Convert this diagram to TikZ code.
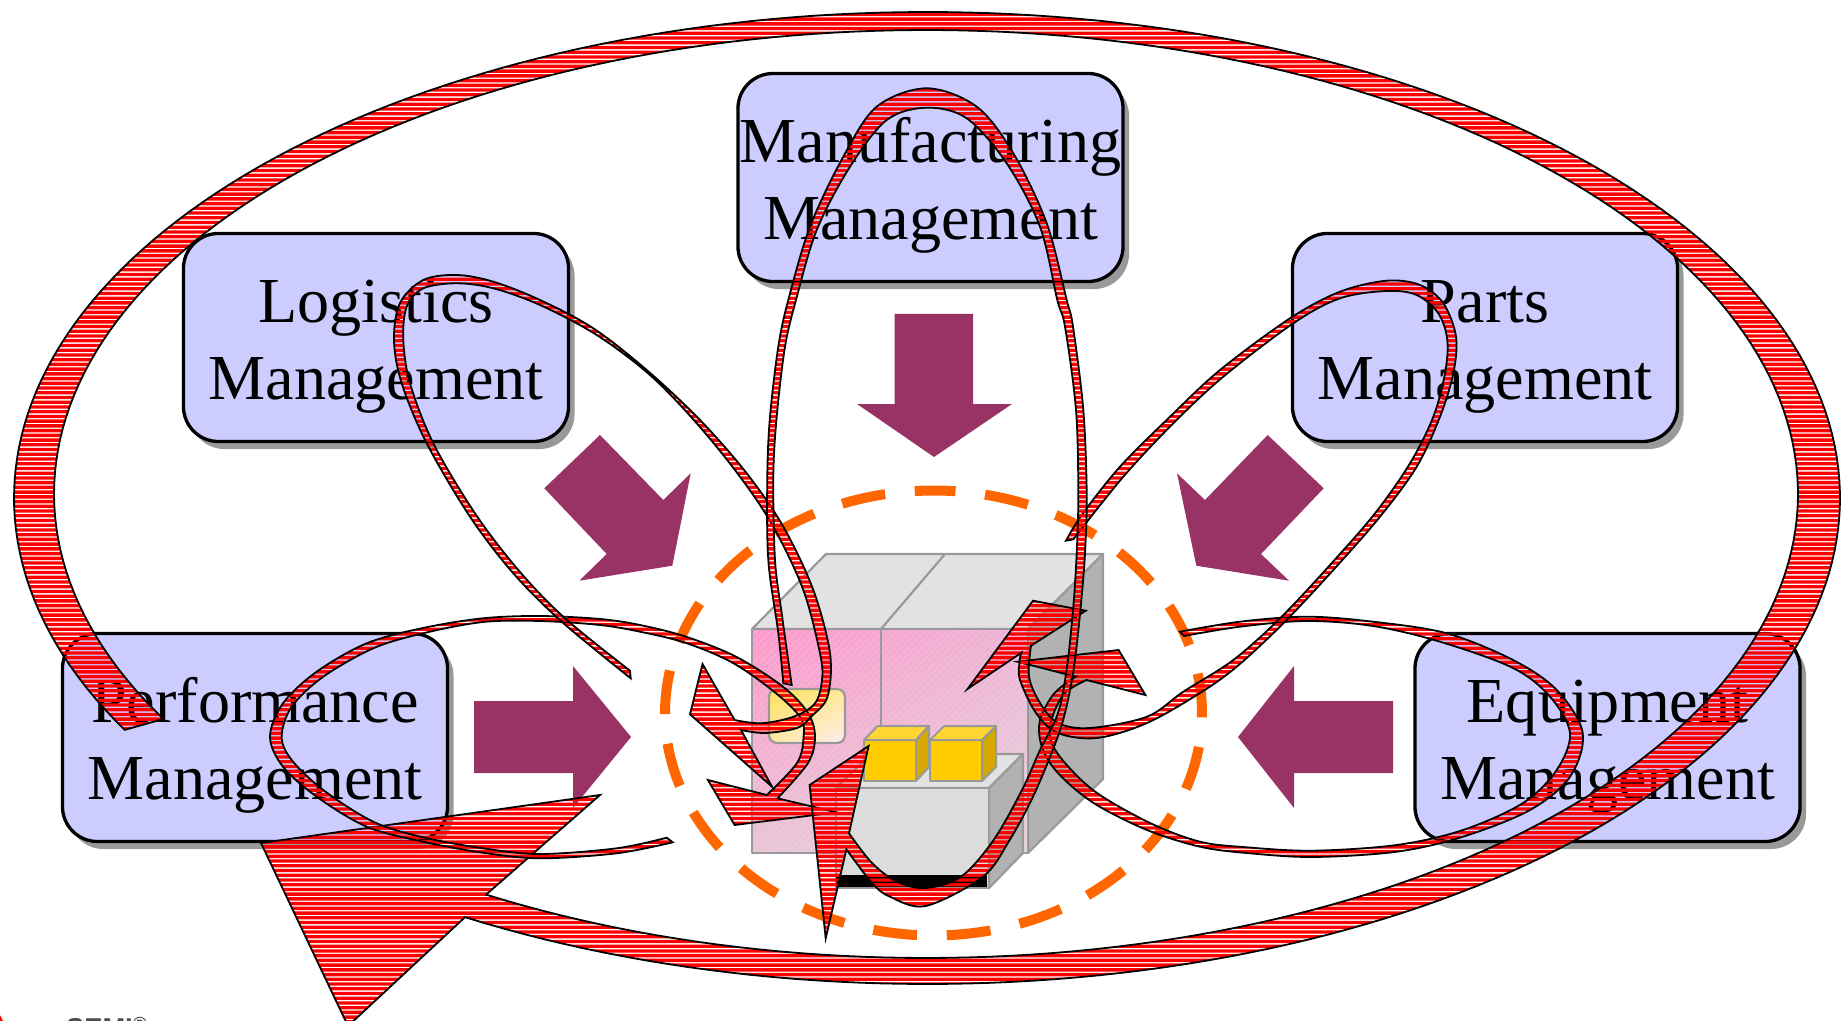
\documentclass[tikz,border=0pt]{standalone}
\usepackage{fontspec}
\setmainfont{Liberation Serif}
\newfontfamily\logofont{Liberation Sans}
\usetikzlibrary{shadows,shadings}
\definecolor{boxfill}{HTML}{CCCCFF}
\definecolor{purpleblock}{HTML}{993366}
\definecolor{dashorange}{HTML}{FF6600}
\definecolor{shadowgray}{HTML}{999999}
\definecolor{edgegray}{HTML}{999999}
\definecolor{cabtop}{HTML}{E2E2E2}
\definecolor{cabside}{HTML}{B2B2B2}
\definecolor{shelffront}{HTML}{DCDCDC}
\definecolor{cubefront}{HTML}{FFCC00}
\definecolor{cubetop}{HTML}{FFD633}
\definecolor{cubeside}{HTML}{D4A800}
\definecolor{panelUL}{HTML}{FF99CC}
\definecolor{panelUR}{HTML}{ECB4D4}
\definecolor{panelLL}{HTML}{E9C4D6}
\definecolor{panelLR}{HTML}{E8D6E0}
\definecolor{winUL}{HTML}{FFE25A}
\definecolor{winUR}{HTML}{FFE896}
\definecolor{winLL}{HTML}{FFE8AA}
\definecolor{winLR}{HTML}{FCEEF0}
\tikzset{
  mgmtbox/.style={draw=black,line width=3.3*0.04cm,fill=boxfill,rounded corners=1.4cm,
    minimum width=15.4cm,minimum height=8.32cm,inner sep=0pt,align=center,
    font=\fontsize{73}{88}\selectfont,text height=152pt,text depth=10pt,
    general shadow={fill=shadowgray,shadow xshift=0.24cm,shadow yshift=-0.3cm}},
  purplearrow/.style={fill=purpleblock,draw=none},
  cabedge/.style={draw=edgegray,line width=2.2*0.04cm,line join=round},
  cubeedge/.style={draw=edgegray,line width=2*0.04cm,line join=round},
  arrowline/.style={draw=black,line width=1.8*0.04cm,line join=miter},
  orangering/.style={draw=dashorange,line width=10*0.04cm,dash pattern=on 1.76cm off 1.19cm,dash phase=0.88cm}
}
\newcommand\hatched[1]{%
  \begin{scope}
    \clip #1;
    \fill[red]\foreach \k in {0,...,216}{(-5,{3.25+\k*4.73}) rectangle (1850,{6.6+\k*4.73})};
  \end{scope}
  \draw[arrowline] #1;}
\begin{document}
\begin{tikzpicture}[x=0.04cm,y=-0.04cm]
\useasboundingbox (0,0) rectangle (1843,1021);
\fill[white] (0,0) rectangle (1843,1021);

% block arrows
\fill[purplearrow] (894.5,314) -- (973,314) -- (973,404) -- (1012,404) -- (934,457) -- (857,404) -- (894.5,404) -- cycle;
\fill[purplearrow] (474,701) -- (573,701) -- (573,666) -- (631,737) -- (573,808) -- (573,773) -- (474,773) -- cycle;
\fill[purplearrow] (1393,701) -- (1294,701) -- (1294,666) -- (1238,737) -- (1294,808) -- (1294,773) -- (1393,773) -- cycle;
\fill[purplearrow] (600,435) -- (544.3,488.3) -- (606.7,554) -- (579.3,580.7) -- (672.3,565.7) -- (690.7,473.3) -- (663.3,500) -- cycle;
\fill[purplearrow] (1267.7,435) -- (1323.7,488.3) -- (1261,554) -- (1289,580.7) -- (1196.3,565.7) -- (1177,473.3) -- (1205,500) -- cycle;

% cabinet
\fill[cabtop,cabedge] (752,629) -- (826,554) -- (1103,554) -- (1028,629) -- cycle;
\draw[cabedge] (945,554) -- (881,629);
\fill[cabside,cabedge] (1028,629) -- (1103,554) -- (1103,779) -- (1028,853) -- cycle;
\shade[shading=bilinear interpolation,upper left=panelUL,upper right=panelUR,lower left=panelLL,lower right=panelLR] (752,629) rectangle (1028,853);
\begin{scope}
  \clip (752,629) rectangle (1028,853);
  \foreach \k in {0,...,70}{\draw[white,opacity=0.18,line width=0.04cm] ({752+\k*7},853) -- ({752+\k*7+224},629);}
  \foreach \k in {1,...,32}{\draw[white,opacity=0.18,line width=0.04cm] ({752-\k*7},853) -- ({752-\k*7+224},629);}
\end{scope}
\draw[cabedge] (752,629) rectangle (1028,853);
\draw[cabedge] (881,629) -- (881,726);

% small window
\begin{scope}
  \clip[rounded corners=0.32cm] (769,689) rectangle (845,743);
  \shade[shading=bilinear interpolation,upper left=winUL,upper right=winUR,lower left=winLL,lower right=winLR] (769,689) rectangle (845,743);
\end{scope}
\draw[cabedge,rounded corners=0.32cm] (769,689) rectangle (845,743);

% shelf unit
\fill[cabtop,cabedge] (836,788) -- (871,754) -- (1023,754) -- (989,788) -- cycle;
\fill[cabside,cabedge] (989,788) -- (1023,754) -- (1023,853) -- (989,888) -- cycle;
\fill[shelffront,cabedge] (836,788) rectangle (989,888);
\fill[black] (836,875) rectangle (987,887);

% yellow cubes
\fill[cubefront,cubeedge] (864,740) rectangle (916,781);
\fill[cubetop,cubeedge] (864,740) -- (877.5,726) -- (929,726) -- (916,740) -- cycle;
\fill[cubeside,cubeedge] (916,740) -- (929,726) -- (929,767) -- (916,781) -- cycle;
\fill[cubefront,cubeedge] (930,740) rectangle (982,781);
\fill[cubetop,cubeedge] (930,740) -- (944,726) -- (996,726) -- (982,740) -- cycle;
\fill[cubeside,cubeedge] (982,740) -- (996,726) -- (996,767) -- (982,781) -- cycle;

% management boxes
\node[mgmtbox] (mfg) at (930.5,177.5) {Manufacturing\\Management};
\node[mgmtbox] (log) at (376,337.5) {Logistics\\Management};
\node[mgmtbox] (par) at (1485,337.5) {Parts\\Management};
\node[mgmtbox] (perf) at (255,737.5) {Performance\\Management};
\node[mgmtbox] (equ) at (1607.5,737.5) {Equipment\\Management};

% dashed ring
\draw[orangering] plot[domain=270:630,samples=240] ({933.5+268.5*cos(\x)},{713+222.5*sin(\x)});

% logo remnant
\node[anchor=north west,inner sep=0pt,text=black!70,font=\logofont\bfseries\fontsize{31}{31}\selectfont] (semi) at (66,1016.5) {SEMI\textsuperscript{®}};
\fill[red] (0,1015) -- (3,1021) -- (0,1021) -- cycle;

% big ring arrow
\hatched{plot[domain=151.5:480.4,samples=240] ({927+913*cos(\x)},{498+486*sin(\x)}) -- (348,1026) -- (261,843) -- (600,795) -- plot[domain=480.3:151,samples=240] ({926+872*cos(\x)},{494+464*sin(\x)}) -- cycle}

% performance arrow
\hatched{plot[smooth,tension=0.55] coordinates {(672.7,842.3) (616.7,853.3) (540,858.3) (483,852.7) (423,841.7) (366.7,826.7) (316.7,796.7) (283,766.7) (270,736.7) (283,703.3) (316.7,671.7) (366.7,643.3) (423,628) (483,618.3) (540,616) (600,619) (640,625) (686,636.7) (736,656.7) (783,686.7) (808,713) (815,736.7) (808,763) (777.5,798.3)} -- (836.4,812.3) -- (734.6,825) -- (707.9,780) -- plot[smooth,tension=0.55] coordinates {(766.8,795) (797,763) (803.6,736.7) (800.7,718) (775.7,693) (733,663) (686,643) (640,631.7) (600,625) (540,621) (483,622) (423,633.3) (373.3,648.3) (323.3,676.7) (291.7,706.7) (281.7,736.7) (291.7,760) (323.3,790) (373.3,821.7) (423,837.3) (483,848.3) (540,854) (616.7,848.3) (666.7,837.7)} -- cycle}

% equipment arrow
\hatched{plot[smooth,tension=0.55] coordinates {(1180,631.7) (1240,621.7) (1306.7,616.7) (1373,621.7) (1446.7,633.3) (1513,660) (1556.7,690) (1582.7,733) (1570,776.7) (1530,810) (1463,836.7) (1396.7,851.7) (1313,857) (1246.7,853) (1200,846.7) (1147,830) (1093.6,803) (1057.9,773) (1041.8,746.7) (1040,720) (1054.3,693.3) (1075.7,676.7)} -- (1017.5,661.7) -- (1118.6,650) -- (1145.4,695) -- plot[smooth,tension=0.55] coordinates {(1086.4,680) (1065,693) (1052.5,716.7) (1050.7,740) (1065,763) (1097,793) (1150.7,823.3) (1200,841.7) (1246.7,847.3) (1313,850.7) (1396.7,845) (1463,830) (1523,803) (1556.7,770) (1570,733) (1550,696.7) (1513,668) (1440,641.7) (1373,626) (1306.7,621) (1240,626.7) (1184,636)} -- cycle}

% logistics arrow
\hatched{plot[smooth,tension=0.55] coordinates {(630.7,678.3) (561.7,621.7) (513.3,573.3) (470,516.7) (426.7,443.3) (401.7,383.3) (394,340) (400,303) (423.3,280) (456.7,275) (493.3,281.7) (540,300) (593.3,328.3) (646.7,370) (700,420) (746.7,473.3) (783.3,526.7) (813.3,590) (830,653.3) (827.5,696.7) (811,716.7) (797,728) (765,733) (741,730)} -- (772,786.7) -- (690,714.3) -- (702.5,664) -- plot[smooth,tension=0.55] coordinates {(734.6,720) (761.4,723.3) (793.6,716.7) (815,703.3) (822,680) (820,653.3) (803.3,590) (773.3,526.7) (740,476.7) (696.7,423.3) (650,375) (596.7,335) (540,305) (493.3,288.3) (456.7,283.3) (423.3,288.3) (406.7,306.7) (403.3,340) (410,383.3) (433.3,443.3) (475,513.3) (518.3,570) (565,618.3) (630,670.7)} -- cycle}

% parts arrow
\hatched{plot[smooth,tension=0.55] coordinates {(1066,540.7) (1081.7,515) (1120,466.7) (1170,416.7) (1220,370) (1290,318.3) (1340,291.7) (1386.7,280.7) (1420,285) (1443.3,303.3) (1456,336.7) (1453.3,373.3) (1440,416.7) (1416.7,466.7) (1380,516.7) (1333.3,570) (1283.3,623.3) (1236.7,666.7) (1200,693) (1147,723) (1097,738) (1057.9,733) (1036,713) (1020,680) (1019.6,661.7) (1021.4,652.7)} -- (967.5,689) -- (1033,600.7) -- (1085.7,610.7) -- plot[smooth,tension=0.55] coordinates {(1031,645.7) (1029,676.7) (1040,703) (1058,723) (1090,728) (1147,716.7) (1183.3,691.7) (1233.3,660) (1280,618.3) (1330,565) (1375,513.3) (1410,463.3) (1433.3,416.7) (1445,373.3) (1447.3,340) (1438.3,313.3) (1416.7,295) (1386.7,291) (1340,298.3) (1293.3,323.3) (1223.3,376.7) (1173.3,423.3) (1123.3,476.7) (1073.3,539.3)} -- cycle}

% manufacturing arrow
\hatched{plot[smooth,tension=0.55] coordinates {(783.3,683.3) (778.3,633) (768.3,560) (767.3,476.7) (770,416.7) (778.3,346.7) (788.3,300) (810,226.7) (843.3,156.7) (876.7,106.7) (926.7,88.3) (976.7,106.7) (1013.3,153.3) (1046.7,223.3) (1066.7,300) (1073,326.7) (1083.3,410) (1086.7,493.3) (1085,553) (1080.7,606.7) (1074,666.7) (1065,713) (1054,746.7) (1033,796.7) (1009.6,840) (983,876.7) (925.7,906) (890,896.7) (872,883) (846.4,849.3)} -- (825.7,938.3) -- (809.6,785) -- (868.6,746) -- plot[smooth,tension=0.55] coordinates {(849,833.3) (872,863) (897,881.7) (925.7,888) (961,876.7) (993.6,840) (1022,790) (1040,750) (1058,713) (1067,666.7) (1073.3,606.7) (1076.7,553) (1078.3,493.3) (1076,410) (1065,326.7) (1057.3,300) (1040,226.7) (1006.7,163.3) (966.7,118.3) (926.7,107.7) (886.7,120) (850,166.7) (816.7,230) (796,300) (785,346.7) (776.7,416.7) (773.3,476.7) (775,560) (781.7,613.3) (791.7,685)} -- cycle}
\end{tikzpicture}
\end{document}
